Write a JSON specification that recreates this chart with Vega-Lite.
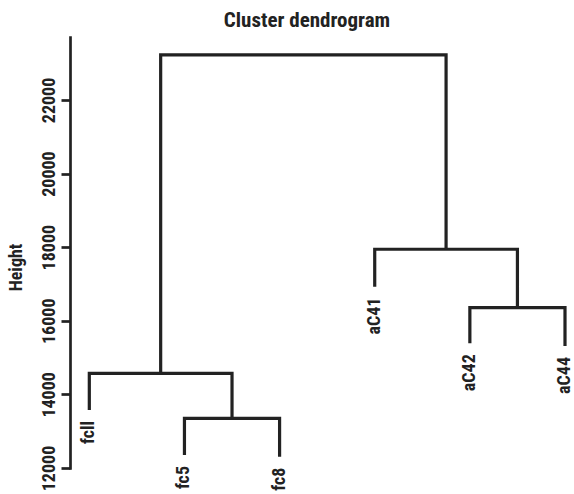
{
  "$schema": "https://vega.github.io/schema/vega-lite/v6.json",
  "width": 502,
  "height": 431,
  "autosize": {"type": "none"},
  "padding": {"left": 70, "top": 37, "right": 2, "bottom": 26},
  "background": "white",
  "config": {"view": {"stroke": null}, "font": "Roboto Condensed"},
  "title": {"text": "Cluster dendrogram", "font": "Roboto Condensed", "fontSize": 21, "fontWeight": "bold", "color": "#222", "anchor": "middle", "frame": "group", "dx": -14, "offset": 6},
  "datasets": {
    "branches": [
      {"merge": "A", "step": 1, "x": 2, "height": 12353},
      {"merge": "A", "step": 2, "x": 2, "height": 13350},
      {"merge": "A", "step": 3, "x": 3, "height": 13350},
      {"merge": "A", "step": 4, "x": 3, "height": 12307},
      {"merge": "B", "step": 1, "x": 1, "height": 13576},
      {"merge": "B", "step": 2, "x": 1, "height": 14573},
      {"merge": "B", "step": 3, "x": 2.5, "height": 14573},
      {"merge": "B", "step": 4, "x": 2.5, "height": 13350},
      {"merge": "C", "step": 1, "x": 5, "height": 15389},
      {"merge": "C", "step": 2, "x": 5, "height": 16356},
      {"merge": "C", "step": 3, "x": 6, "height": 16356},
      {"merge": "C", "step": 4, "x": 6, "height": 15315},
      {"merge": "D", "step": 1, "x": 4, "height": 16927},
      {"merge": "D", "step": 2, "x": 4, "height": 17943},
      {"merge": "D", "step": 3, "x": 5.5, "height": 17943},
      {"merge": "D", "step": 4, "x": 5.5, "height": 16356},
      {"merge": "E", "step": 1, "x": 1.75, "height": 14573},
      {"merge": "E", "step": 2, "x": 1.75, "height": 23223},
      {"merge": "E", "step": 3, "x": 4.75, "height": 23223},
      {"merge": "E", "step": 4, "x": 4.75, "height": 17943}
    ],
    "leaves": [
      {"label": "fcll", "x": 1, "height": 13576},
      {"label": "fc5", "x": 2, "height": 12353},
      {"label": "fc8", "x": 3, "height": 12307},
      {"label": "aC41", "x": 4, "height": 16927},
      {"label": "aC42", "x": 5, "height": 15389},
      {"label": "aC44", "x": 6, "height": 15315}
    ]
  },
  "layer": [
    {
      "data": {"name": "branches"},
      "mark": {"type": "line", "strokeWidth": 3.2, "color": "#222", "strokeJoin": "miter", "strokeCap": "butt"},
      "encoding": {
        "x": {"field": "x", "type": "quantitative", "scale": {"domain": [0.797, 6.0736], "nice": false, "zero": false}, "axis": null},
        "y": {
          "field": "height", "type": "quantitative",
          "scale": {"domain": [12000, 23710], "nice": false, "zero": false},
          "axis": {
            "title": "Height",
            "values": [12000, 14000, 16000, 18000, 20000, 22000],
            "format": "d",
            "grid": false,
            "labelAngle": 270,
            "labelAlign": "center",
            "labelBaseline": "alphabetic",
            "labelPadding": 7,
            "labelFont": "Roboto Condensed",
            "labelFontSize": 18,
            "labelFontWeight": "bold",
            "labelColor": "#222",
            "labelFlush": false,
            "labelOverlap": false,
            "tickSize": 9,
            "tickWidth": 2.7,
            "tickColor": "#222",
            "domainWidth": 2.7,
            "domainColor": "#222",
            "domainCap": "square",
            "titleFont": "Roboto Condensed",
            "titleFontSize": 18,
            "titleFontWeight": "bold",
            "titleColor": "#222",
            "titleAngle": 270,
            "titleAlign": "center",
            "titleBaseline": "middle",
            "titleX": -54,
            "titleY": 230
          }
        },
        "detail": {"field": "merge"},
        "order": {"field": "step"}
      }
    },
    {
      "data": {"name": "leaves"},
      "mark": {"type": "text", "angle": 270, "align": "right", "baseline": "middle", "dx": -11, "font": "Roboto Condensed", "fontSize": 18, "fontWeight": "bold", "color": "#222"},
      "encoding": {
        "x": {"field": "x", "type": "quantitative"},
        "y": {"field": "height", "type": "quantitative"},
        "text": {"field": "label"}
      }
    }
  ]
}
